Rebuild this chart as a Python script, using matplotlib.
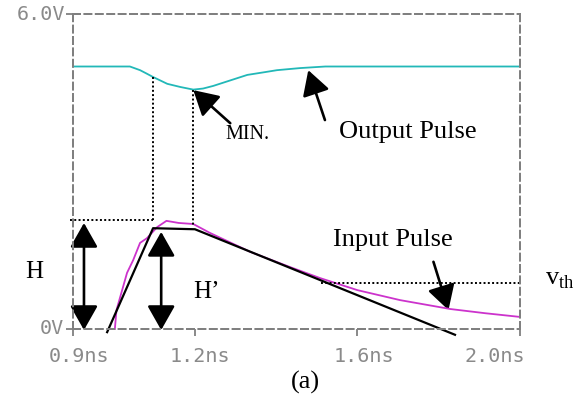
# pulse waveforms: output dip vs input pulse (a)

import matplotlib.pyplot as plt
from matplotlib.patches import FancyArrowPatch

# output pulse (ns, V)
outT = [0.90, 1.040, 1.065, 1.080, 1.097, 1.132, 1.164, 1.196, 1.220, 1.245, 1.285,
        1.329, 1.370, 1.402, 1.459, 1.521, 2.00]
outV = [5.00, 5.00, 4.93, 4.87, 4.80, 4.67, 4.61, 4.56, 4.58, 4.63, 4.73,
        4.84, 4.89, 4.93, 4.97, 5.00, 5.00]

# input pulse (ns, V)
inT = [1.003, 1.007, 1.033, 1.048, 1.065, 1.082, 1.107, 1.130, 1.160, 1.196, 1.237,
       1.336, 1.434, 1.508, 1.600, 1.705, 1.829, 1.915, 2.00]
inV = [0.00, 0.36, 1.07, 1.31, 1.64, 1.73, 1.94, 2.06, 2.02, 2.00, 1.83,
       1.47, 1.18, 0.97, 0.74, 0.55, 0.38, 0.30, 0.23]

# piecewise linear approximation (black)
approxT = [0.984, 1.097, 1.200, 1.840]
approxV = [-0.06, 1.92, 1.90, -0.11]

peakV = 2.08
vth = 0.876
xTicks = [0.9, 1.2, 1.6, 2.0]
xLabels = ["0.9ns", "1.2ns", "1.6ns", "2.0ns"]
xLabelShift = [6, 5, 6, -25]

gray = "#808080"
serif = "Liberation Serif"
plt.rcParams['mathtext.fontset'] = 'custom'
plt.rcParams['mathtext.rm'] = serif

fig = plt.figure(figsize=(5.84, 3.96), dpi=100)
ax = fig.add_axes([73 / 584, 1 - 329 / 396, 447 / 584, 315 / 396])
ax.set_xlim(0.9, 2.0)
ax.set_ylim(0, 6)

for s in ax.spines.values():
    s.set_color(gray)
    s.set_linewidth(1.44)
    s.set_linestyle((0, (3.5, 2.2)))

ax.set_xticks(xTicks)
ax.set_xticklabels([])
ax.set_yticks([0, 6])
ax.set_yticklabels([])
ax.tick_params(direction='out', length=5, width=1.3, color=gray)

mono = dict(family="DejaVu Sans Mono", fontsize=14.5, color="#8a8a8a")
for t, lab, dx in zip(xTicks, xLabels, xLabelShift):
    ax.annotate(lab, xy=(t, 0), xycoords=('data', 'axes fraction'),
                xytext=(dx, -27), textcoords='offset pixels',
                ha='center', va='center', **mono)
ax.annotate("6.0V", xy=(0, 6), xycoords=('axes fraction', 'data'),
            xytext=(-8, -1), textcoords='offset pixels', ha='right', va='center', **mono)
ax.annotate("0V", xy=(0, 0), xycoords=('axes fraction', 'data'),
            xytext=(-9, 1), textcoords='offset pixels', ha='right', va='center', **mono)

ax.plot(outT, outV, color="#22b8b8", lw=1.3, clip_on=False)
ax.plot(inT, inV, color="#cc33cc", lw=1.3, clip_on=False)
ax.plot(approxT, approxV, color="black", lw=1.6, clip_on=False)

dot = dict(color="black", lw=1.4, linestyle=(0, (1, 1.2)), clip_on=False)
ax.plot([0.893, 1.097], [peakV, peakV], **dot)
ax.plot([1.097, 1.097], [4.80, peakV], **dot)
ax.plot([1.196, 1.196], [4.56, 1.98], **dot)
ax.plot([1.51, 2.0], [vth, vth], **dot)


def arrow(start, end, style="-|>"):
    a = FancyArrowPatch(start, end, arrowstyle=style + ",head_length=15,head_width=8.5",
                        color="black", lw=1.9, shrinkA=0, shrinkB=0,
                        mutation_scale=1, clip_on=False)
    ax.add_patch(a)


arrow((0.927, -0.02), (0.927, 2.02), "<|-|>")
arrow((1.117, -0.02), (1.117, 1.85), "<|-|>")
arrow((1.287, 3.92), (1.196, 4.55))
arrow((1.520, 3.98), (1.479, 4.93))
arrow((1.787, 1.28), (1.824, 0.36))

txt = dict(family=serif, ha='center', va='center', clip_on=False)
ax.text(0.804, 1.09, "H", fontsize=18, **txt)
ax.text(1.228, 0.70, "H\u2019", fontsize=18, **txt)
ax.text(1.329, 3.70, "MIN.", fontsize=14.5, **txt)
ax.text(1.725, 3.75, "Output Pulse", fontsize=19, **txt)
ax.text(1.688, 1.70, "Input Pulse", fontsize=19, **txt)
ax.text(2.099, 0.93, r"$\mathrm{v}_{\mathrm{th}}$", fontsize=19, **txt)
ax.text(1.471, -1.01, "(a)", fontsize=19, **txt)

fig.savefig("out.png", dpi=100)
